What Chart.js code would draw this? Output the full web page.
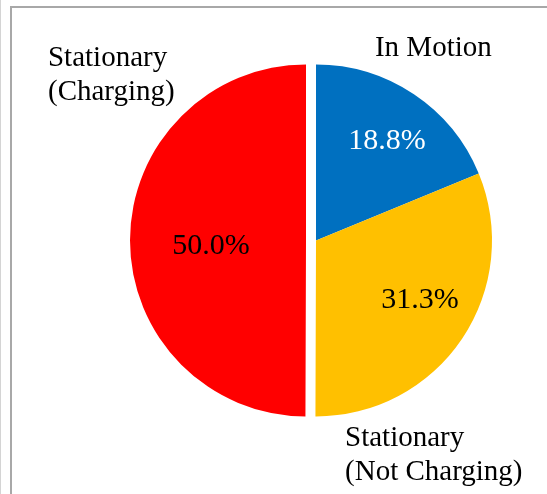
<!DOCTYPE html>
<html lang="en">
<head>
  <meta charset="UTF-8">
  <title>Vehicle state share</title>
  <script src="https://cdn.jsdelivr.net/npm/chart.js"></script>
  <style>
    html, body { margin: 0; padding: 0; background: #fff; }
    #wrap { width: 547px; height: 494px; position: relative; }
  </style>
</head>
<body>
  <div id="wrap"><canvas id="pieChart"></canvas></div>

  <script>
    // data
    const categories = ['In Motion', 'Stationary (Not Charging)', 'Stationary (Charging)'];
    const labelLines = [['In Motion'], ['Stationary', '(Not Charging)'], ['Stationary', '(Charging)']];
    const shares = [18.8, 31.3, 50.0];
    const sliceColors = ['#0070C0', '#FFC000', '#FF0000'];

    const FONT = '"Liberation Serif", "Times New Roman", serif';

    // pulled-out slice (px) and text placement, in units of the radius from each slice's centre
    const explode = [0, 0, 10];
    const pctPos = [[0.403, -0.565], [0.591, 0.338], [-0.54, 0.031]];
    const pctColor = ['#ffffff', '#000000', '#000000'];
    const namePos = [[0.335, -1.051], [0.165, 1.170], [-1.466, -0.994]];

    const framePlugin = {
      id: 'frame',
      beforeDraw(chart) {
        const c = chart.ctx;
        c.save();
        c.fillStyle = '#fff';
        c.fillRect(0, 0, chart.width, chart.height);
        c.strokeStyle = '#d4d4d4';
        c.lineWidth = 1;
        c.beginPath(); c.moveTo(0.5, 0); c.lineTo(0.5, chart.height); c.stroke();
        c.strokeStyle = '#a8a8a8';
        c.lineWidth = 2;
        c.beginPath();
        c.moveTo(11, chart.height); c.lineTo(11, 7); c.lineTo(chart.width, 7);
        c.stroke();
        c.restore();
      }
    };

    // the built-in offset also grows the slice, so move its centre instead
    const explodePlugin = {
      id: 'explode',
      afterDatasetsUpdate(chart) {
        chart.getDatasetMeta(0).data.forEach((arc, i) => {
          if (!explode[i]) return;
          const mid = (arc.startAngle + arc.endAngle) / 2;
          arc.x += Math.cos(mid) * explode[i];
          arc.y += Math.sin(mid) * explode[i];
        });
      }
    };

    const labelPlugin = {
      id: 'sliceLabels',
      afterDatasetsDraw(chart) {
        const c = chart.ctx;
        const arcs = chart.getDatasetMeta(0).data;
        c.save();
        arcs.forEach((arc, i) => {
          const p = arc.getProps(['x', 'y', 'outerRadius']);
          const r = p.outerRadius;

          // percentage inside the slice
          c.font = '30px ' + FONT;
          c.fillStyle = pctColor[i];
          c.textAlign = 'center';
          c.textBaseline = 'middle';
          c.fillText(shares[i].toFixed(1) + '%', p.x + pctPos[i][0] * r, p.y + pctPos[i][1] * r);

          // category name outside
          c.font = '29px ' + FONT;
          c.fillStyle = '#000';
          c.textAlign = 'left';
          c.textBaseline = 'alphabetic';
          const lx = p.x + namePos[i][0] * r;
          const ly = p.y + namePos[i][1] * r;
          labelLines[i].forEach((t, k) => c.fillText(t, lx, ly + k * 34));
        });
        c.restore();
      }
    };

    new Chart(document.getElementById('pieChart'), {
      type: 'pie',
      data: {
        labels: categories,
        datasets: [{
          data: shares,
          backgroundColor: sliceColors,
          borderWidth: 0
        }]
      },
      options: {
        responsive: true,
        maintainAspectRatio: false,
        animation: false,
        radius: 176,
        layout: { padding: { left: 90, right: 5, top: 0, bottom: 13 } },
        plugins: { legend: { display: false }, tooltip: { enabled: false } }
      },
      plugins: [framePlugin, explodePlugin, labelPlugin]
    });
  </script>
</body>
</html>
